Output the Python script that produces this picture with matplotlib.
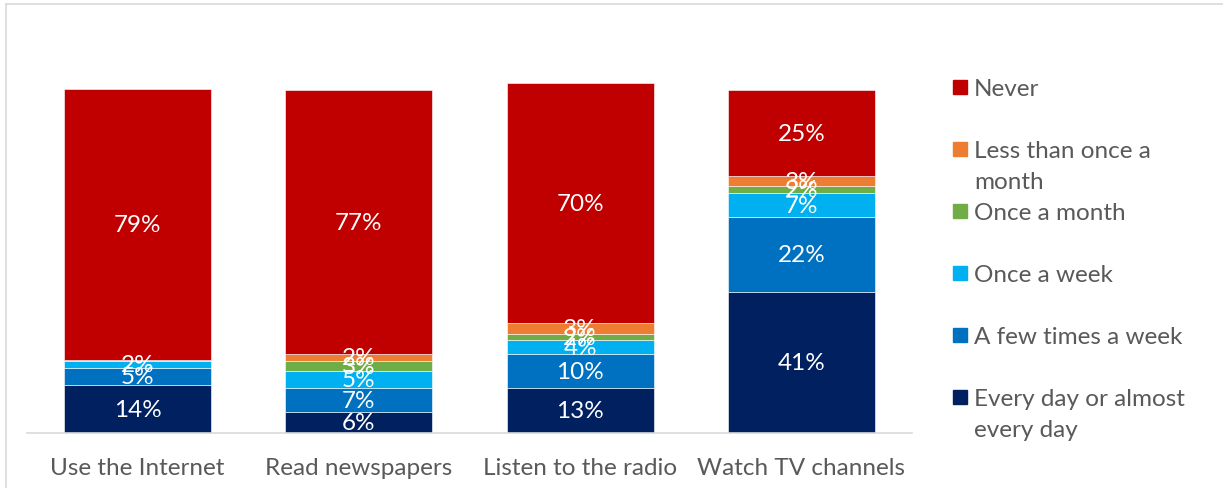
import matplotlib
matplotlib.use("Agg")
import matplotlib.pyplot as plt
from matplotlib.patches import Rectangle
import numpy as np

plt.rcParams['font.family'] = ['Lato', 'DejaVu Sans']

# Media use frequency, percent of respondents
categories = ["Use the Internet", "Read newspapers", "Listen to the radio", "Watch TV channels"]
series = ["Every day or almost\nevery day", "A few times a week", "Once a week",
          "Once a month", "Less than once a\nmonth", "Never"]
every_day = [14, 6, 13, 41]
few_times_week = [5, 7, 10, 22]
once_week = [2, 5, 4, 7]
once_month = [0, 3, 2, 2]
less_than_month = [0.3, 2, 3, 3]
never = [79, 77, 70, 25]
colors = ["#002060", "#0070C0", "#00B0F0", "#70AD47", "#ED7D31", "#C00000"]

values = [every_day, few_times_week, once_week, once_month, less_than_month, never]

FS = 17.5
W, H = 1223, 489
fig = plt.figure(figsize=(W / 100, H / 100), dpi=100)
ax = fig.add_axes([27 / W, 55 / H, 885 / W, 377 / H])

x = np.arange(len(categories))
bottom = np.zeros(len(categories))
for vals, color in zip(values, colors):
    vals = np.array(vals, dtype=float)
    ax.bar(x, vals, 0.665, bottom=bottom, color=color, edgecolor="white", linewidth=0.4)
    for xi, b, v in zip(x, bottom, vals):
        if v >= 1:
            ax.text(xi, b + v / 2, f"{v:.0f}%", ha="center", va="center",
                    color="white", fontsize=FS)
    bottom += vals

ax.set_xlim(-0.5, len(categories) - 0.5)
ax.set_ylim(0, 110)
ax.set_yticks([])
ax.set_xticks(x)
ax.set_xticklabels(categories, fontsize=FS, color="#595959")
ax.tick_params(axis="x", length=0, pad=17)
for side in ["top", "right", "left"]:
    ax.spines[side].set_visible(False)
ax.spines["bottom"].set_color("#D9D9D9")
ax.spines["bottom"].set_linewidth(1.2)

# legend drawn by hand, top entry first
legend_top = 88
step = 62
for i, (name, color) in enumerate(zip(series[::-1], colors[::-1])):
    yc = legend_top + i * step
    fig.patches.append(Rectangle((953 / W, 1 - (yc + 7) / H), 14 / W, 14 / H,
                                 transform=fig.transFigure, color=color))
    fig.text(974 / W, 1 - (yc - 8.5) / H, name, fontsize=FS, color="#595959",
             va="top", ha="left", linespacing=1.55)

# outer chart frame
fig.add_artist(plt.Line2D([6 / W, 6 / W], [0, 1 - 5 / H], transform=fig.transFigure,
                          color="#D9D9D9", linewidth=1.2))
fig.add_artist(plt.Line2D([6 / W, 1], [1 - 5 / H, 1 - 5 / H], transform=fig.transFigure,
                          color="#D9D9D9", linewidth=1.2))

fig.savefig("out.png", dpi=100)
